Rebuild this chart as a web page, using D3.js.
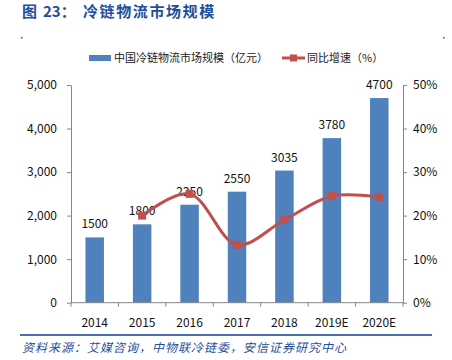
<!DOCTYPE html>
<html>
<head>
<meta charset="utf-8">
<script src="https://cdn.jsdelivr.net/npm/d3@7"></script>
<style>
  body { margin: 0; background: #fff; }
  text { font-family: "Noto Sans CJK SC", "Noto Sans", sans-serif; }
</style>
</head>
<body>
<div id="chart"></div>
<script>
// chart data
const years = ["2014", "2015", "2016", "2017", "2018", "2019E", "2020E"];
const scale = [1500, 1800, 2250, 2550, 3035, 3780, 4700];
const growth = [null, 20.0, 25.0, 13.3, 19.0, 24.5, 24.3];
const leftTicks = [0, 1000, 2000, 3000, 4000, 5000];
const rightTicks = [0, 10, 20, 30, 40, 50];

const width = 452;
const height = 360;
const marginLeft = 71;
const marginRight = 49;
const marginTop = 85;
const zeroY = 302.7;

const blue = "#4f81bd";
const red = "#c0504d";
const axisColor = "#868686";
const titleBlue = "#1f4e9a";

const svg = d3.select("#chart").append("svg")
    .attr("width", width)
    .attr("height", height)
    .attr("viewBox", [0, 0, width, height]);

// scales
const x = d3.scaleBand()
    .domain(years)
    .range([marginLeft, width - marginRight])
    .paddingInner(0.61)
    .paddingOuter(0.305);

const xPoint = d => x(d) + x.bandwidth() / 2;

const y = d3.scaleLinear().domain([0, 5000]).range([zeroY, marginTop]);
const y2 = d3.scaleLinear().domain([0, 50]).range([zeroY, marginTop]);

// title
const title = svg.append("text")
    .attr("y", 17)
    .attr("fill", titleBlue)
    .attr("font-size", 15)
    .attr("font-weight", "bold");
title.append("tspan").attr("x", 22).text("图");
title.append("tspan").attr("x", 43).text("23：");
title.append("tspan").attr("x", 83).attr("letter-spacing", 1.6).text("冷链物流市场规模");

// little corner dots
svg.selectAll("rect.dot")
    .data([21, 443])
    .join("rect")
    .attr("class", "dot")
    .attr("x", d => d)
    .attr("y", 37)
    .attr("width", 1.5)
    .attr("height", 1.5)
    .attr("fill", "#555");

// legend
const legend = svg.append("g").attr("font-size", 11).attr("fill", "#222");
legend.append("rect")
    .attr("x", 89).attr("y", 55).attr("width", 22).attr("height", 6)
    .attr("fill", blue);
legend.append("text")
    .attr("x", 114).attr("y", 62)
    .text("中国冷链物流市场规模（亿元）");
legend.append("line")
    .attr("x1", 282).attr("x2", 305).attr("y1", 58).attr("y2", 58)
    .attr("stroke", red).attr("stroke-width", 3);
legend.append("rect")
    .attr("x", 290).attr("y", 54.5).attr("width", 7).attr("height", 7)
    .attr("fill", red);
legend.append("text")
    .attr("x", 307).attr("y", 62)
    .text("同比增速（%）");

// bars
svg.append("g")
    .selectAll("rect")
    .data(scale)
    .join("rect")
    .attr("x", (d, i) => x(years[i]))
    .attr("y", d => y(d))
    .attr("width", x.bandwidth())
    .attr("height", d => y(0) - y(d))
    .attr("fill", blue);

// bar labels
svg.append("g")
    .attr("font-size", 12)
    .attr("fill", "#111")
    .attr("text-anchor", "middle")
    .selectAll("text")
    .data(scale)
    .join("text")
    .attr("x", (d, i) => xPoint(years[i]))
    .attr("y", d => y(d) - 9)
    .text(d => d);

// axes
const axisStyle = g => {
  g.selectAll("path, line").attr("stroke", axisColor);
  g.selectAll("text").attr("fill", "#111").attr("font-size", 12)
      .attr("font-family", "\"Noto Sans CJK SC\", sans-serif");
};

svg.append("g")
    .attr("transform", `translate(${marginLeft},0)`)
    .call(d3.axisLeft(y).tickValues(leftTicks).tickSize(4).tickSizeOuter(0).tickPadding(10)
        .tickFormat(d3.format(",")))
    .call(axisStyle);

svg.append("g")
    .attr("transform", `translate(${width - marginRight},0)`)
    .call(d3.axisRight(y2).tickValues(rightTicks).tickSize(4).tickSizeOuter(0).tickPadding(6)
        .tickFormat(d => d + "%"))
    .call(axisStyle);

// x axis with ticks at category boundaries
const xAxis = svg.append("g").attr("transform", `translate(0,${zeroY})`);
xAxis.append("line")
    .attr("x1", marginLeft).attr("x2", width - marginRight)
    .attr("stroke", axisColor);
const step = x.step();
xAxis.selectAll("line.tick")
    .data(d3.range(years.length + 1))
    .join("line")
    .attr("class", "tick")
    .attr("x1", i => marginLeft + i * step)
    .attr("x2", i => marginLeft + i * step)
    .attr("y1", 0).attr("y2", 4)
    .attr("stroke", axisColor);
xAxis.selectAll("text")
    .data(years)
    .join("text")
    .attr("x", d => xPoint(d))
    .attr("y", 24)
    .attr("text-anchor", "middle")
    .attr("font-size", 12)
    .attr("fill", "#111")
    .text(d => d);

// growth line
const pts = years.map((d, i) => [xPoint(d), growth[i]]).filter(p => p[1] != null);
const line = d3.line()
    .x(p => p[0])
    .y(p => y2(p[1]))
    .curve(d3.curveCatmullRom.alpha(0.5));

svg.append("path")
    .datum(pts)
    .attr("d", line)
    .attr("fill", "none")
    .attr("stroke", red)
    .attr("stroke-width", 3);

svg.append("g")
    .selectAll("rect")
    .data(pts)
    .join("rect")
    .attr("x", p => p[0] - 4)
    .attr("y", p => y2(p[1]) - 4)
    .attr("width", 8)
    .attr("height", 8)
    .attr("fill", red);

// footer rule and source
svg.append("line")
    .attr("x1", 20).attr("x2", 432)
    .attr("y1", 335).attr("y2", 335)
    .attr("stroke", "#4a6fb0")
    .attr("stroke-width", 2);

svg.append("text")
    .attr("x", 22)
    .attr("y", 352)
    .attr("font-size", 12)
    .attr("letter-spacing", 1)
    .attr("font-style", "italic")
    .attr("fill", titleBlue)
    .text("资料来源：艾媒咨询，中物联冷链委，安信证券研究中心");
</script>
</body>
</html>
